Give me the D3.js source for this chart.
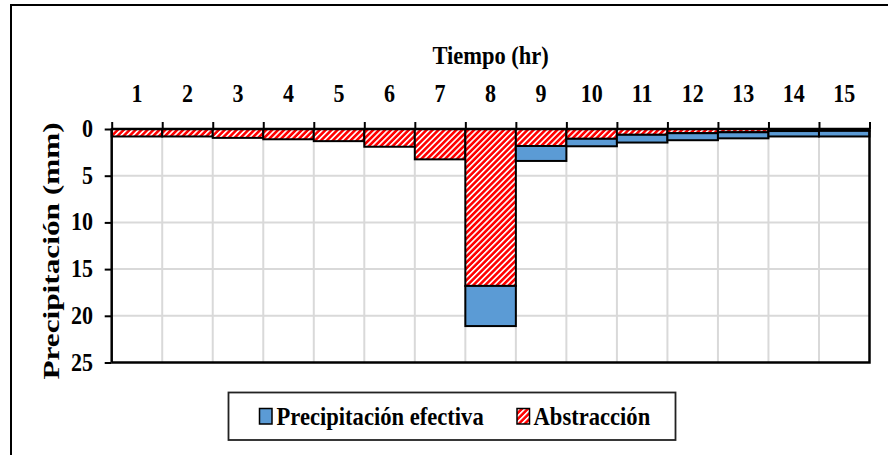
<!DOCTYPE html>
<html>
<head>
<meta charset="utf-8">
<script src="https://cdn.jsdelivr.net/npm/d3@7/dist/d3.min.js"></script>
<style>
  html, body { margin: 0; padding: 0; background: #fff; }
  svg { display: block; }
  text { font-family: "Liberation Serif", "Times New Roman", serif; font-weight: bold; fill: #000; }
</style>
</head>
<body>
<svg id="chart" width="888" height="455"></svg>
<script>
// ---- data ----
const hours = [1, 2, 3, 4, 5, 6, 7, 8, 9, 10, 11, 12, 13, 14, 15];
const abstraccion = [0.8, 0.8, 0.95, 1.1, 1.3, 1.9, 3.25, 16.8, 1.82, 1.05, 0.62, 0.45, 0.35, 0.22, 0.2];
const efectiva = [0, 0, 0, 0, 0, 0, 0, 4.3, 1.6, 0.8, 0.83, 0.75, 0.65, 0.58, 0.6];
const yTicks = [0, 5, 10, 15, 20, 25];
const xTitle = "Tiempo (hr)";
const yTitle = "Precipitación (mm)";
const seriesNames = ["Precipitación efectiva", "Abstracción"];

const svg = d3.select("#chart");
const plot = { left: 111.7, right: 869.5, top: 129, bottom: 362.5 };
const RED = "#ff0000", BLUE = "#5b9bd5";
const SY = 1.15; // vertical stretch of text

// hatch pattern
const defs = svg.append("defs");
const pat = defs.append("pattern")
  .attr("id", "hatch").attr("patternUnits", "userSpaceOnUse")
  .attr("width", 4.2).attr("height", 4.2)
  .attr("patternTransform", "rotate(45)");
pat.append("rect").attr("width", 4.2).attr("height", 4.2).attr("fill", RED);
pat.append("rect").attr("x", 0).attr("y", 0).attr("width", 1.6).attr("height", 4.2).attr("fill", "#fff");

// outer frame (right/bottom edges beyond view)
svg.append("rect").attr("x", 11).attr("y", 5).attr("width", 900).attr("height", 500)
  .attr("fill", "none").attr("stroke", "#000").attr("stroke-width", 2);

const x = d3.scaleBand().domain(hours).range([plot.left, plot.right]).padding(0);
const xEdge = d3.scaleLinear().domain([0, hours.length]).range([plot.left, plot.right]);
const y = d3.scaleLinear().domain([0, 25]).range([plot.top, plot.bottom]);

// gridlines
svg.append("g").selectAll("line").data(yTicks.filter(d => d > 0 && d < 25)).join("line")
  .attr("x1", plot.left).attr("x2", plot.right)
  .attr("y1", d => y(d)).attr("y2", d => y(d))
  .attr("stroke", "#d9d9d9").attr("stroke-width", 2);
svg.append("g").selectAll("line").data(d3.range(1, hours.length)).join("line")
  .attr("x1", d => xEdge(d)).attr("x2", d => xEdge(d))
  .attr("y1", plot.top).attr("y2", plot.bottom)
  .attr("stroke", "#d9d9d9").attr("stroke-width", 2);

// bars
const rows = hours.map((h, i) => ({ h, a: abstraccion[i], e: efectiva[i] }));
svg.append("g").selectAll("rect").data(rows).join("rect")
  .attr("x", d => x(d.h)).attr("width", x.bandwidth())
  .attr("y", y(0)).attr("height", d => y(d.a) - y(0))
  .attr("fill", "url(#hatch)").attr("stroke", "#000").attr("stroke-width", 2);
svg.append("g").selectAll("rect").data(rows.filter(d => d.e > 0)).join("rect")
  .attr("x", d => x(d.h)).attr("width", x.bandwidth())
  .attr("y", d => y(d.a)).attr("height", d => y(d.a + d.e) - y(d.a))
  .attr("fill", BLUE).attr("stroke", "#000").attr("stroke-width", 2);

// plot border (right & bottom)
svg.append("path")
  .attr("d", `M${plot.right},${plot.top}V${plot.bottom}H${plot.left}`)
  .attr("fill", "none").attr("stroke", "#000").attr("stroke-width", 2.5);

// x axis (top): boundary ticks
const xAx = svg.append("g").attr("transform", `translate(0,${plot.top})`)
  .call(d3.axisTop(xEdge).tickValues(d3.range(0, hours.length + 1)).tickSize(7).tickFormat(""));
xAx.select(".domain").attr("stroke", "#000").attr("stroke-width", 2.5).attr("d", `M${plot.left},0H${plot.right}`);
xAx.selectAll(".tick line").attr("stroke", "#000").attr("stroke-width", 2);

// x labels
svg.append("g").selectAll("text").data(hours).join("text")
  .attr("text-anchor", "middle").attr("font-size", 22)
  .attr("transform", d => `translate(${x(d) + x.bandwidth() / 2},101.5) scale(1,${SY})`)
  .text(d => d);

// y axis (left)
const yAx = svg.append("g").attr("transform", `translate(${plot.left},0)`)
  .call(d3.axisLeft(y).tickValues(yTicks).tickSize(7).tickFormat(""));
yAx.select(".domain").attr("stroke", "#000").attr("stroke-width", 2.5).attr("d", `M0,${plot.top}V${plot.bottom}`);
yAx.selectAll(".tick line").attr("stroke", "#000").attr("stroke-width", 2);

svg.append("g").selectAll("text").data(yTicks).join("text")
  .attr("text-anchor", "end").attr("font-size", 22)
  .attr("transform", d => `translate(93,${y(d) + 8}) scale(1,${SY})`)
  .text(d => d);

// titles
svg.append("text").attr("text-anchor", "middle").attr("font-size", 22.5)
  .attr("transform", `translate(${(plot.left + plot.right) / 2},63.5) scale(1,${SY})`)
  .text(xTitle);
svg.append("text").attr("text-anchor", "middle").attr("font-size", 23)
  .attr("transform", `translate(59,251) rotate(-90) scale(1.36,1)`)
  .text(yTitle);

// legend
const lg = svg.append("g");
lg.append("rect").attr("x", 228.5).attr("y", 392.5).attr("width", 447).attr("height", 47.5)
  .attr("fill", "#fff").attr("stroke", "#222").attr("stroke-width", 1.8);
const legendItems = [
  { name: seriesNames[0], fill: BLUE, sx: 259.5, tx: 276.5 },
  { name: seriesNames[1], fill: "url(#hatch)", sx: 517, tx: 533.5 }
];
legendItems.forEach(it => {
  lg.append("rect").attr("x", it.sx).attr("y", 408.5).attr("width", 12.5).attr("height", 15.5)
    .attr("fill", it.fill).attr("stroke", "#000").attr("stroke-width", 1.5);
  lg.append("text").attr("font-size", 22.6)
    .attr("transform", `translate(${it.tx},424.5) scale(1,${SY})`)
    .text(it.name);
});
</script>
</body>
</html>
